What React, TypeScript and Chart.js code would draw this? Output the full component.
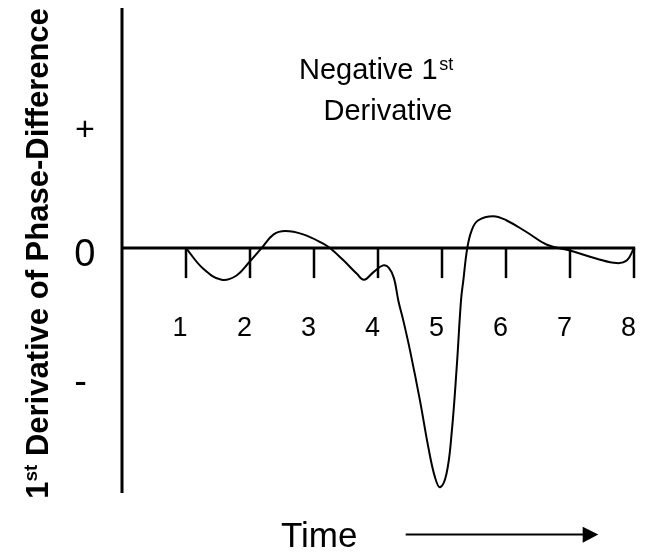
import React, { useEffect, useRef } from "react";
import { Chart, registerables } from "chart.js";

Chart.register(...registerables);

// ---- data ----
const TIME = [
  1, 1.27, 1.557, 1.79, 1.99, 2.18, 2.37, 2.55, 2.83, 3.15, 3.25, 3.46, 3.67, 3.78, 3.93,
  4.08, 4.17, 4.25, 4.317, 4.395, 4.5, 4.656, 4.786, 4.89, 4.97, 5.07, 5.15, 5.23, 5.297, 5.333,
  5.395, 5.464, 5.5625, 5.8, 6.01, 6.32, 6.64, 7.0, 7.42, 7.73, 7.89, 8,
];
const DERIV = [
  0, -0.086, -0.132, -0.114, -0.058, 0, 0.057, 0.071, 0.057, 0.018, 0, -0.051, -0.107, -0.132, -0.1,
  -0.072, -0.082, -0.126, -0.218, -0.301, -0.426, -0.635, -0.829, -0.954, -0.996, -0.94, -0.773, -0.496, -0.218, -0.135,
  0, 0.074, 0.115, 0.133, 0.115, 0.067, 0.014, -0.01, -0.044, -0.0625, -0.051, 0,
];
const TICKS = [1, 2, 3, 4, 5, 6, 7, 8];
const TICK_LABELS = ["1", "2", "3", "4", "5", "6", "7", "8"];
const Y_LABELS = ["+", "0", "-"];
const Y_LABEL_VALUES = [0.5, -0.018, -0.56];
const Y_TITLE_MAIN = " Derivative of Phase-Difference";
const ANNOT_LINE1 = "Negative 1";
const ANNOT_LINE2 = "Derivative";
const X_TITLE = "Time";

const FONT = "'Liberation Sans', Arial, Helvetica, sans-serif";

function drawInkCentered(ctx: CanvasRenderingContext2D, text: string, cx: number, cy: number) {
  ctx.textAlign = "left";
  ctx.textBaseline = "alphabetic";
  const m = ctx.measureText(text);
  const left = -m.actualBoundingBoxLeft;
  const right = m.actualBoundingBoxRight;
  const asc = m.actualBoundingBoxAscent;
  const desc = m.actualBoundingBoxDescent;
  const x = cx - (left + right) / 2;
  const y = cy + (asc - desc) / 2;
  ctx.fillText(text, x, y);
}

const decor = {
  id: "decor",
  beforeDatasetsDraw(chart: any) {
    const { ctx, chartArea } = chart;
    const xs = chart.scales.x;
    const ys = chart.scales.y;
    const x0 = xs.getPixelForValue(0);
    const y0 = ys.getPixelForValue(0);
    ctx.save();
    ctx.strokeStyle = "#000";
    ctx.lineCap = "butt";
    ctx.lineWidth = 3;
    ctx.beginPath();
    ctx.moveTo(x0, chartArea.top);
    ctx.lineTo(x0, chartArea.bottom);
    ctx.stroke();
    ctx.beginPath();
    ctx.moveTo(x0, y0);
    ctx.lineTo(xs.getPixelForValue(TICKS[TICKS.length - 1]) + 1.2, y0);
    ctx.stroke();
    ctx.lineWidth = 2.5;
    TICKS.forEach((t) => {
      const px = xs.getPixelForValue(t);
      ctx.beginPath();
      ctx.moveTo(px, y0);
      ctx.lineTo(px, y0 + 30);
      ctx.stroke();
    });
    ctx.restore();
  },
  afterDraw(chart: any) {
    const { ctx } = chart;
    const xs = chart.scales.x;
    const ys = chart.scales.y;
    const y0 = ys.getPixelForValue(0);
    ctx.save();
    ctx.fillStyle = "#000";

    // x tick labels
    ctx.font = `27px ${FONT}`;
    TICKS.forEach((t, i) => {
      drawInkCentered(ctx, TICK_LABELS[i], xs.getPixelForValue(t) - 5.5, y0 + 78.5);
    });

    // y labels
    const yFonts = [34, 38, 38];
    const yXs = [85, 84.7, 80.3];
    Y_LABELS.forEach((lab, i) => {
      ctx.font = `${yFonts[i]}px ${FONT}`;
      drawInkCentered(ctx, lab, yXs[i], ys.getPixelForValue(Y_LABEL_VALUES[i]));
    });

    // annotation
    ctx.textAlign = "left";
    ctx.textBaseline = "alphabetic";
    ctx.font = `29px ${FONT}`;
    ctx.fillText(ANNOT_LINE1, 299, 79);
    const w1 = ctx.measureText(ANNOT_LINE1).width;
    ctx.font = `18px ${FONT}`;
    ctx.fillText("st", 299 + w1 + 1.5, 70);
    ctx.font = `29px ${FONT}`;
    ctx.textAlign = "center";
    ctx.fillText(ANNOT_LINE2, 388, 120);

    // x title and arrow
    ctx.textAlign = "left";
    ctx.font = `35px ${FONT}`;
    ctx.fillText(X_TITLE, 281, 546.7);
    ctx.strokeStyle = "#000";
    ctx.lineWidth = 2;
    ctx.beginPath();
    ctx.moveTo(405.7, 534.5);
    ctx.lineTo(585, 534.5);
    ctx.stroke();
    ctx.beginPath();
    ctx.moveTo(582.7, 526.7);
    ctx.lineTo(598.3, 534.5);
    ctx.lineTo(582.7, 542.7);
    ctx.closePath();
    ctx.fill();

    // y title (rotated)
    ctx.save();
    ctx.translate(47.5, 253.5);
    ctx.rotate(-Math.PI / 2);
    ctx.textAlign = "left";
    ctx.font = `bold 31px ${FONT}`;
    const wOne = ctx.measureText("1").width;
    ctx.font = `bold 19px ${FONT}`;
    const wSt = ctx.measureText("st").width;
    ctx.font = `bold 31px ${FONT}`;
    const wMain = ctx.measureText(Y_TITLE_MAIN).width;
    const total = wOne + wSt + wMain;
    let cx = -total / 2;
    ctx.fillText("1", cx, 0);
    cx += wOne;
    ctx.font = `bold 19px ${FONT}`;
    ctx.fillText("st", cx, -11);
    cx += wSt;
    ctx.font = `bold 31px ${FONT}`;
    ctx.fillText(Y_TITLE_MAIN, cx, 0);
    ctx.restore();

    ctx.restore();
  },
};

export default function App() {
  const ref = useRef<HTMLCanvasElement | null>(null);
  useEffect(() => {
    if (!ref.current) return;
    const chart = new Chart(ref.current, {
      type: "line",
      data: {
        datasets: [
          {
            data: TIME.map((t, i) => ({ x: t, y: DERIV[i] })),
            borderColor: "#000",
            borderWidth: 2,
            pointRadius: 0,
            fill: false,
            tension: 0.4,
            clip: false as any,
          },
        ],
      },
      options: {
        responsive: false,
        animation: false,
        devicePixelRatio: 1,
        layout: { padding: { left: 122, right: 14, top: 8, bottom: 61 } },
        plugins: { legend: { display: false }, tooltip: { enabled: false } },
        scales: {
          x: { type: "linear", min: 0, max: 8, display: false },
          y: { min: -1.02, max: 1, display: false },
        },
      },
      plugins: [decor],
    } as any);
    return () => chart.destroy();
  }, []);
  return (
    <div style={{ position: "fixed", left: 0, top: 0, width: 648, height: 554, background: "#fff" }}>
      <canvas ref={ref} width={648} height={554} style={{ width: 648, height: 554, display: "block" }} />
    </div>
  );
}
